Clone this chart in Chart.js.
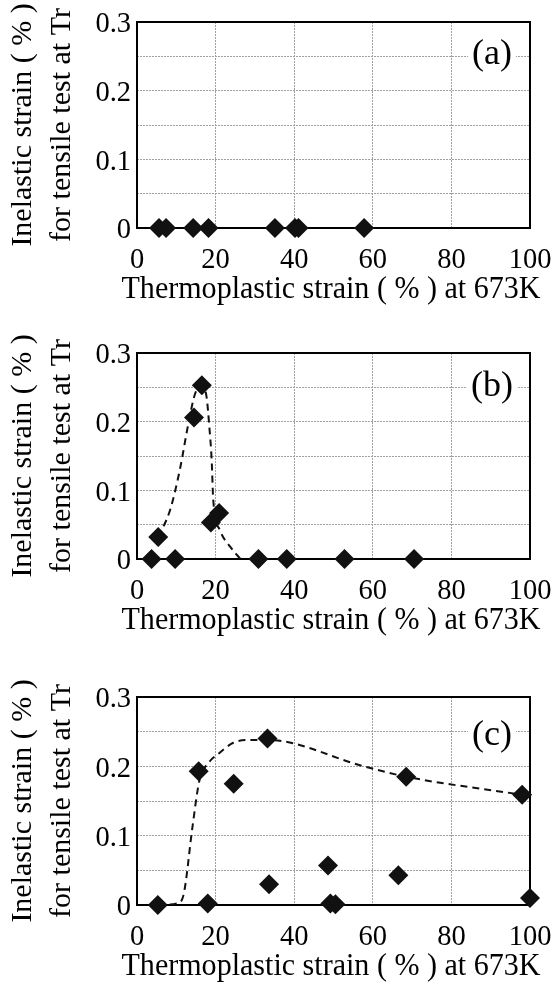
<!DOCTYPE html>
<html>
<head>
<meta charset="utf-8">
<script src="https://cdn.jsdelivr.net/npm/chart.js@4.4.1/dist/chart.umd.min.js"></script>
<style>
  body { margin: 0; background: #fff; }
  canvas { position: absolute; left: 0; }
</style>
</head>
<body>
<canvas id="panelA" width="554" height="330" style="top:0px"></canvas>
<canvas id="panelB" width="554" height="330" style="top:330px"></canvas>
<canvas id="panelC" width="554" height="332" style="top:660px"></canvas>
<script>
// (a) every specimen stays at zero
const aStrain = [5.6, 7.4, 14.3, 18.2, 35.1, 40.2, 41.1, 57.8];
const aInelastic = [0, 0, 0, 0, 0, 0, 0, 0];

// (b)
const bStrain = [3.7, 5.4, 9.7, 14.5, 16.5, 18.8, 20.9, 30.9, 38.1, 52.8, 70.5];
const bInelastic = [0, 0.032, 0, 0.206, 0.253, 0.053, 0.067, 0, 0, 0, 0];
// dashed trend line
const bTrendX = [5.4, 8.4, 10.9, 13.1, 14.8, 16.5, 17.7, 18.4, 19.0, 19.4, 21.1, 23.7, 26.3];
const bTrendY = [0.032, 0.071, 0.130, 0.198, 0.241, 0.253, 0.236, 0.193, 0.144, 0.086, 0.042, 0.018, 0];

// (c)
const cStrain = [5.3, 15.7, 18.0, 24.6, 33.2, 33.6, 48.6, 49.2, 50.5, 66.5, 68.5, 98.0, 100];
const cInelastic = [0, 0.193, 0.002, 0.175, 0.240, 0.030, 0.057, 0.002, 0.001, 0.043, 0.185, 0.159, 0.010];
const cTrendX = [5.3, 10.5, 11.9, 14.1, 15.9, 18.2, 20.9, 24.5, 28.1, 33.2, 57.7, 68.5, 98];
const cTrendY = [0, 0.003, 0.016, 0.112, 0.180, 0.205, 0.219, 0.234, 0.238, 0.238, 0.200, 0.185, 0.159];

const xTicks = [0, 20, 40, 60, 80, 100];
const yTicks = [0, 0.1, 0.2, 0.3];

const xTitle = 'Thermoplastic strain ( % ) at 673K';
const yTitle = ['Inelastic strain ( % )', 'for tensile test at Tr'];

const serif = '"Liberation Serif", "Times New Roman", serif';

function pts(xs, ys) {
  return xs.map((x, i) => ({ x: x, y: ys[i] }));
}

// panel tag, frame, and the x title (chart.js would squeeze it to the axis width)
const framePlugin = {
  id: 'frame',
  beforeDatasetsDraw(chart, args, opts) {
    const { ctx, chartArea: a } = chart;
    ctx.save();
    ctx.font = '36px ' + serif;
    const w = ctx.measureText(opts.tag).width;
    const cx = a.right - 38, cy = a.top + opts.tagY;
    ctx.fillStyle = '#fff';
    ctx.fillRect(cx - w / 2 - 4, cy - 21, w + 8, 42);
    ctx.fillStyle = '#000';
    ctx.textAlign = 'center';
    ctx.textBaseline = 'middle';
    ctx.fillText(opts.tag, cx, cy);
    ctx.lineWidth = 2;
    ctx.strokeStyle = '#000';
    ctx.strokeRect(a.left, a.top, a.right - a.left, a.bottom - a.top);

    ctx.font = '31px ' + serif;
    ctx.fillText(xTitle, a.left + 194, a.bottom + 62, 419);
    ctx.restore();
  }
};

function makePanel(id, tag, tagY, padTop, padBottom, sx, sy, tx, ty) {
  const datasets = [{
    type: 'scatter',
    data: pts(sx, sy),
    backgroundColor: '#111',
    borderWidth: 0,
    pointStyle: 'rectRot',
    pointRadius: 10,
    pointHoverRadius: 10,
    clip: false,
    order: 0
  }];
  if (tx) {
    datasets.push({
      type: 'line',
      data: pts(tx, ty),
      borderColor: '#111',
      borderWidth: 2,
      borderDash: [7, 5],
      pointRadius: 0,
      cubicInterpolationMode: 'monotone',
      fill: false,
      order: 1
    });
  }

  new Chart(document.getElementById(id), {
    data: { datasets: datasets },
    plugins: [framePlugin],
    options: {
      responsive: false,
      animation: false,
      layout: { padding: { left: 0, right: 24, top: padTop, bottom: padBottom } },
      plugins: {
        legend: { display: false },
        tooltip: { enabled: false },
        frame: { tag: tag, tagY: tagY }
      },
      scales: {
        x: {
          type: 'linear',
          min: 0,
          max: 100,
          afterFit: s => { s.height = 80; s.paddingLeft = 0; s.paddingRight = 0; },
          afterBuildTicks: s => { s.ticks = xTicks.map(v => ({ value: v })); },
          ticks: {
            padding: 15,
            color: '#000',
            font: { family: serif, size: 28.5 },
            maxRotation: 0,
            autoSkip: false
          },
          grid: { color: '#a0a0a0', lineWidth: 1, drawTicks: false },
          border: { display: false, dash: [2, 1] },
          title: { display: false }
        },
        y: {
          type: 'linear',
          min: 0,
          max: 0.3,
          afterFit: s => { s.width = 137; s.paddingTop = 0; s.paddingBottom = 0; },
          ticks: {
            stepSize: 0.05,
            padding: 6,
            labelOffset: 3,
            color: '#000',
            autoSkip: false,
            font: { family: serif, size: 28.5 },
            callback: v => {
              const hit = yTicks.find(t => Math.abs(t - v) < 1e-6);
              if (hit === undefined) return '';
              return hit === 0 ? '0' : hit.toFixed(1);
            }
          },
          grid: { color: '#a0a0a0', lineWidth: 1, drawTicks: false },
          border: { display: false, dash: [2, 1] },
          title: {
            display: true,
            text: yTitle,
            color: '#000',
            font: { family: serif, size: 30, lineHeight: 1.3 },
            padding: { top: 3.5, bottom: 0 }
          }
        }
      }
    }
  });
}

makePanel('panelA', '(a)', 33, 22, 22, aStrain, aInelastic);
makePanel('panelB', '(b)', 34, 23, 21, bStrain, bInelastic, bTrendX, bTrendY);
makePanel('panelC', '(c)', 39, 37, 7, cStrain, cInelastic, cTrendX, cTrendY);
</script>
</body>
</html>
